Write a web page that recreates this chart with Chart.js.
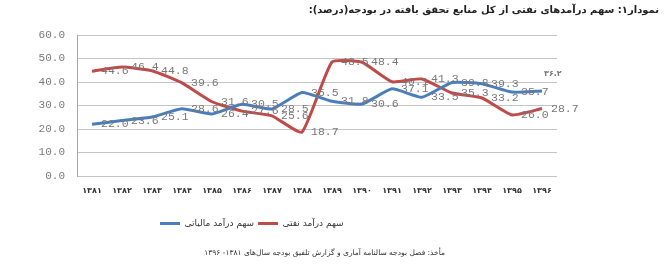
<!DOCTYPE html>
<html lang="fa">
<head>
<meta charset="utf-8">
<title>سهم درآمدهای نفتی</title>
<script src="https://cdn.jsdelivr.net/npm/chart.js@4/dist/chart.umd.min.js"></script>
<style>
  body { margin: 0; background: #fff; }
  #wrap { position: relative; width: 666px; height: 271px; overflow: hidden; }
  #chart { position: absolute; left: 0; top: 0; }
  .onvan { position: absolute; right: 7px; top: 4px; font: bold 10px "DejaVu Sans"; color: #222; direction: rtl; white-space: nowrap; }
  .makhaz { position: absolute; right: 221px; top: 248px; font: 7.5px "DejaVu Sans"; color: #333; direction: rtl; white-space: nowrap; }
</style>
</head>
<body>
<div id="wrap">
  <canvas id="chart" width="666" height="271"></canvas>
  <div class="onvan">نمودار۱: سهم درآمدهای نفتی از کل منابع تحقق یافته در بودجه(درصد):</div>
  <div class="makhaz">مأخذ: فصل بودجه سالنامه آماری و گزارش تلفیق بودجه سال‌های ۱۳۸۱- ۱۳۹۶</div>
</div>
<script>
const salha = ['۱۳۸۱', '۱۳۸۲', '۱۳۸۳', '۱۳۸۴', '۱۳۸۵', '۱۳۸۶', '۱۳۸۷', '۱۳۸۸',
               '۱۳۸۹', '۱۳۹۰', '۱۳۹۱', '۱۳۹۲', '۱۳۹۳', '۱۳۹۴', '۱۳۹۵', '۱۳۹۶'];
const sahmMaliati = [22.0, 23.6, 25.1, 28.6, 26.4, 30.5, 28.5, 35.5, 31.8, 30.6, 37.1, 33.5, 39.8, 39.3, 35.7, 36.2];
const sahmNafti = [44.6, 46.4, 44.8, 39.6, 31.6, 27.6, 25.6, 18.7, 48.5, 48.4, 40.1, 41.3, 35.3, 33.2, 26.0, 28.7];
const barchasbMaliati = ['22.0', '23.6', '25.1', '28.6', '26.4', '30.5', '28.5', '35.5',
                         '31.8', '30.6', '37.1', '33.5', '39.8', '39.3', '35.7', '۳۶.۲'];
const barchasbNafti = ['44.6', '46.4', '44.8', '39.6', '31.6', '27.6', '25.6', '18.7',
                       '48.5', '48.4', '40.1', '41.3', '35.3', '33.2', '26.0', '28.7'];
const yTicks = [0, 10, 20, 30, 40, 50, 60];

// برچسب مقادیر کنار هر نقطه
const barchasbPlugin = {
    id: 'barchasb',
    afterDatasetsDraw(chart) {
        const ctx = chart.ctx;
        ctx.save();
        ctx.fillStyle = '#787878';
        ctx.textAlign = 'left';
        ctx.textBaseline = 'middle';
        chart.data.datasets.forEach((ds, i) => {
            const meta = chart.getDatasetMeta(i);
            meta.data.forEach((pt, j) => {
                const txt = ds.barchasb[j];
                if (/[۰-۹]/.test(txt)) {
                    ctx.font = 'bold 8px "DejaVu Sans"';
                    ctx.fillText(txt, pt.x + 2, pt.y - 17);
                } else {
                    ctx.font = '11.5px "Liberation Mono"';
                    ctx.fillText(txt, pt.x + 9, pt.y);
                }
            });
        });
        ctx.restore();
    }
};

// جابجایی راهنما به زیر نمودار
const rahnamaPlugin = {
    id: 'rahnama',
    beforeDraw(chart) {
        const lg = chart.legend;
        const w = lg.right - lg.left;
        lg.left = 156;
        lg.right = 156 + w;
    }
};

const ctx = document.getElementById('chart').getContext('2d');
const nemoodar = new Chart(ctx, {
    type: 'line',
    data: {
        labels: salha,
        datasets: [{
            label: 'سهم درآمد مالیاتی',
            data: sahmMaliati,
            barchasb: barchasbMaliati,
            borderColor: '#4a7ebb',
            backgroundColor: '#4a7ebb',
            borderWidth: 3,
            pointRadius: 0,
            tension: 0.15
        }, {
            label: 'سهم درآمد نفتی',
            data: sahmNafti,
            barchasb: barchasbNafti,
            borderColor: '#be4b48',
            backgroundColor: '#be4b48',
            borderWidth: 3,
            pointRadius: 0,
            tension: 0.15
        }]
    },
    options: {
        responsive: false,
        animation: false,
        layout: {
            padding: { top: 35, left: 0, right: 109, bottom: 33 }
        },
        scales: {
            x: {
                offset: true,
                grid: { display: false, drawTicks: false },
                border: { display: false },
                ticks: {
                    padding: 10,
                    color: '#333',
                    font: { family: 'DejaVu Sans', size: 8, weight: 'bold' },
                    maxRotation: 0,
                    autoSkip: false
                },
                afterFit(scale) { scale.height = 39; }
            },
            y: {
                min: 0,
                max: 60,
                afterBuildTicks(scale) { scale.ticks = yTicks.map(v => ({ value: v })); },
                grid: { color: '#c4c4c4', lineWidth: 1, drawTicks: false },
                border: { display: true, color: '#a6a6a6' },
                ticks: {
                    padding: 12,
                    color: '#7a7a7a',
                    font: { family: 'Liberation Mono', size: 11 },
                    callback: v => v.toFixed(1)
                },
                afterFit(scale) { scale.width = 77; }
            }
        },
        plugins: {
            title: { display: false },
            tooltip: { enabled: false },
            legend: {
                position: 'bottom',
                align: 'start',
                labels: {
                    boxWidth: 20,
                    boxHeight: 3,
                    padding: 4,
                    color: '#333',
                    font: { family: 'DejaVu Sans', size: 9 },
                    generateLabels(chart) {
                        const items = Chart.defaults.plugins.legend.labels.generateLabels(chart);
                        items.forEach(it => { it.lineWidth = 0; it.fillStyle = it.strokeStyle; });
                        return items;
                    }
                }
            }
        }
    },
    plugins: [barchasbPlugin, rahnamaPlugin]
});
</script>
</body>
</html>
